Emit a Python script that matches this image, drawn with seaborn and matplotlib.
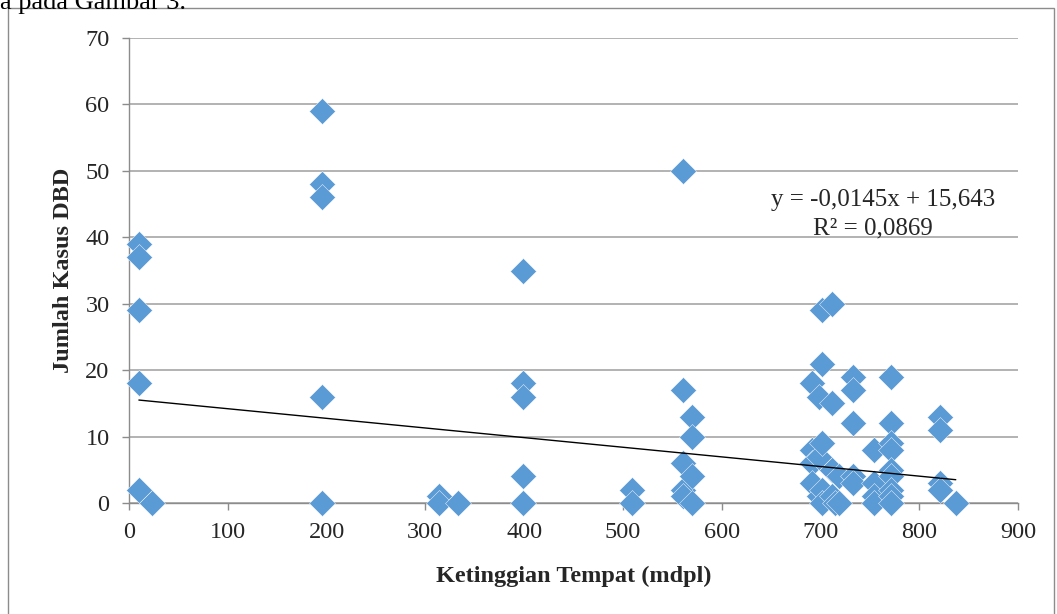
import numpy as np
import pandas as pd
import matplotlib
matplotlib.use("Agg")
import matplotlib.pyplot as plt
import seaborn as sns
from matplotlib.patches import Rectangle

# Data: altitude (mdpl) and number of DBD cases
ketinggian = [10, 10, 10, 10, 10, 23,
              195, 195, 195, 195, 195,
              314, 314, 333,
              399, 399, 399, 399, 399,
              509, 509,
              561, 561, 561, 561, 561,
              570, 570, 570, 570,
              691, 691, 691, 691,
              699, 699, 699,
              702, 702, 702, 702, 702,
              712, 712, 712, 712,
              715, 719, 719,
              733, 733, 733, 733, 733,
              754, 754, 754, 754,
              771, 771, 771, 771, 771, 771, 771, 771, 771,
              821, 821, 821, 821,
              837]
kasus = [39, 37, 29, 18, 2, 0,
         59, 48, 46, 16, 0,
         1, 0, 0,
         35, 18, 16, 4, 0,
         2, 0,
         50, 17, 6, 2, 1,
         13, 10, 4, 0,
         18, 8, 6, 3,
         16, 7, 1,
         29, 21, 9, 2, 0,
         30, 15, 5, 1,
         0, 4, 0,
         19, 17, 12, 4, 3,
         8, 3, 1, 0,
         19, 12, 9, 8, 5, 4, 2, 1, 0,
         13, 11, 3, 2,
         0]

# Linear trend shown on the chart
slope = -0.0145
intercept = 15.643

df = pd.DataFrame({"x": ketinggian, "y": kasus})
xr = np.array([min(ketinggian), max(ketinggian)])
trend = pd.DataFrame({"x": xr, "y": slope * xr + intercept})

sns.set_style("white")
plt.rcParams["font.family"] = ["Liberation Serif", "DejaVu Serif"]

fig = plt.figure(figsize=(10.57, 6.14), dpi=100)
ax = fig.add_axes([129 / 1057, 1 - 503 / 614, (1018 - 129) / 1057, (503 - 38) / 614])

ax.yaxis.grid(True, color="#a6a6a6", lw=1.2)
ax.set_axisbelow(True)

sns.scatterplot(data=df, x="x", y="y", marker="D", s=175, color="#5b9bd5",
                edgecolor="white", linewidth=0.3, ax=ax, zorder=3, clip_on=False)
sns.lineplot(data=trend, x="x", y="y", color="black", lw=1, ax=ax, zorder=4)

ax.set_xlim(0, 900)
ax.set_ylim(0, 70)
ax.set_xticks(range(0, 901, 100))
ax.set_yticks(range(0, 71, 10))
ax.tick_params(axis="both", labelsize=17.5, length=5, width=1, color="#8c8c8c",
               direction="out", bottom=True, left=True)
ax.tick_params(axis="y", pad=9)
ax.tick_params(axis="x", pad=9)
for s in ["top", "right"]:
    ax.spines[s].set_visible(False)
for s in ["left", "bottom"]:
    ax.spines[s].set_color("#8c8c8c")
    ax.spines[s].set_linewidth(1)

ax.set_xlabel("Ketinggian Tempat (mdpl)", fontsize=17.5, fontweight="bold", labelpad=16)
ax.set_ylabel("Jumlah Kasus DBD", fontsize=17.5, fontweight="bold", labelpad=8)

ax.text(995 / 1057, 1 - 200 / 614, "y = -0,0145x + 15,643", transform=fig.transFigure,
        ha="right", va="center", fontsize=18)
ax.text(873 / 1057, 1 - 228 / 614, "R² = 0,0869", transform=fig.transFigure,
        ha="center", va="center", fontsize=18)

# frame of the chart area and cut-off document text above it
fig.patches.append(Rectangle((8 / 1057, -0.01), (1054 - 8) / 1057, 1 - 8 / 614 + 0.01,
                             transform=fig.transFigure, fill=False,
                             edgecolor="#8c8c8c", lw=1))
fig.text(0.0, 1 + 8 / 614, "a pada Gambar 3.", fontsize=19, ha="left", va="top",
         color="black")

fig.savefig("out.png", dpi=100)
